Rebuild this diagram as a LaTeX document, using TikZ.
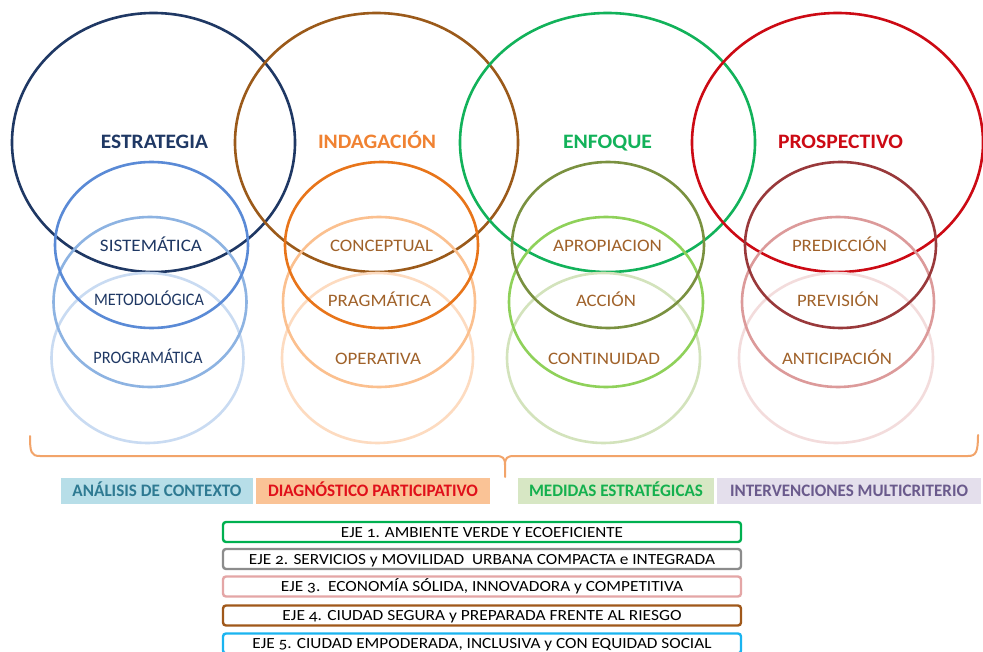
\documentclass[tikz,border=0pt]{standalone}
\usepackage{fontspec}
\usepackage{graphicx}
\setmainfont{Carlito}
\newfontfamily\ejefont[Numbers=OldStyle]{Carlito}
% squeeze or stretch a label horizontally to a given width
\newcommand{\fitto}[2]{\resizebox{#1}{\height}{#2}}

\definecolor{navy}{HTML}{1F3864}
\definecolor{blueA}{HTML}{5A8AD6}
\definecolor{blueB}{HTML}{8DB3E2}
\definecolor{blueC}{HTML}{C9DBF2}
\definecolor{brownbig}{HTML}{9B5A1A}
\definecolor{orangetxt}{HTML}{F08232}
\definecolor{orangeA}{HTML}{E8751A}
\definecolor{orangeB}{HTML}{FBC08F}
\definecolor{orangeC}{HTML}{FDDBC0}
\definecolor{greenbig}{HTML}{12B25A}
\definecolor{oliveA}{HTML}{7A9140}
\definecolor{greenB}{HTML}{8FD15A}
\definecolor{greenC}{HTML}{D3E3BC}
\definecolor{redbig}{HTML}{CC0A14}
\definecolor{redA}{HTML}{99393B}
\definecolor{pinkB}{HTML}{DC9A9A}
\definecolor{pinkC}{HTML}{F3DCDC}
\definecolor{itemtxt}{HTML}{A0622A}
\definecolor{bracecol}{HTML}{F2A46A}
\definecolor{tealfill}{HTML}{B7DEE8}
\definecolor{tealtxt}{HTML}{2E7A92}
\definecolor{peachfill}{HTML}{FAC396}
\definecolor{diagtxt}{HTML}{E0101A}
\definecolor{mintfill}{HTML}{D7E7C4}
\definecolor{mintxt}{HTML}{14B04E}
\definecolor{lilacfill}{HTML}{E4DFEC}
\definecolor{lilactxt}{HTML}{6A5A8C}
\definecolor{ejegreen}{HTML}{00B050}
\definecolor{ejegrey}{HTML}{8C8C8C}
\definecolor{ejepink}{HTML}{E4A6A6}
\definecolor{ejebrown}{HTML}{A0581A}
\definecolor{ejecyan}{HTML}{1AB4F0}

\begin{document}
\begin{tikzpicture}[x=1pt,y=-1pt,
  ring/.style={line width=2.6pt},
  title/.style={font=\fontsize{20.5}{24}\selectfont\bfseries, anchor=base, inner sep=0},
  item/.style={font=\fontsize{17.5}{20}\selectfont, anchor=base, inner sep=0},
  tagbox/.style={rectangle, inner sep=0, minimum height=26pt, text height=11.5pt, text depth=0pt,
    font=\fontsize{17.5}{20}\selectfont\bfseries},
  ejebox/.style={rectangle, rounded corners=3pt, line width=2.4pt, minimum width=518pt,
    minimum height=20pt, inner sep=0, text height=10pt, text depth=0pt,
    font=\fontsize{15.5}{18}\selectfont\ejefont, text=black},
  brace/.style={draw=bracecol, line width=2pt, line cap=round, line join=round}]

\useasboundingbox (0,0) rectangle (983,652);
\fill[white] (0,0) rectangle (983,652);

% the four large rings
\draw[ring, navy]     (153.5,142.5) ellipse [x radius=141.5, y radius=129.5];
\draw[ring, brownbig] (376.5,142.5) ellipse [x radius=141.5, y radius=129.5];
\draw[ring, greenbig] (607.5,142.5) ellipse [x radius=147.5, y radius=129.5];
\draw[ring, redbig]   (837.5,142.5) ellipse [x radius=145.5, y radius=129.5];

% stacked smaller rings, palest at the back
\draw[ring, blueC]   (147.5,358) ellipse [x radius=96, y radius=85];
\draw[ring, blueB]   (150,302)   ellipse [x radius=96.5, y radius=85];
\draw[ring, blueA]   (151.5,245) ellipse [x radius=96.5, y radius=83];

\draw[ring, orangeC] (377.5,358) ellipse [x radius=95.5, y radius=85];
\draw[ring, orangeB] (379,302)   ellipse [x radius=96, y radius=85];
\draw[ring, orangeA] (381.5,245) ellipse [x radius=96.5, y radius=83];

\draw[ring, greenC]  (603.5,358) ellipse [x radius=96.5, y radius=85];
\draw[ring, greenB]  (606,302)   ellipse [x radius=97, y radius=85];
\draw[ring, oliveA]  (608,245)   ellipse [x radius=96, y radius=83];

\draw[ring, pinkC]   (836,358)   ellipse [x radius=97, y radius=85];
\draw[ring, pinkB]   (838,302)   ellipse [x radius=96, y radius=85];
\draw[ring, redA]    (840.5,245) ellipse [x radius=95.5, y radius=83];

% titles
\node[title, text=navy]      (estrategia)  at (154.5,149) {\fitto{107pt}{ESTRATEGIA}};
\node[title, text=orangetxt] (indagacion)  at (377,149)   {\fitto{118pt}{INDAGACIÓN}};
\node[title, text=greenbig]  (enfoque)     at (607.5,149) {\fitto{89pt}{ENFOQUE}};
\node[title, text=redbig]    (prospectivo) at (840.5,149) {\fitto{125pt}{PROSPECTIVO}};

% items inside the small rings
\node[item, text=navy] (sistematica)   at (151,252) {\fitto{102pt}{SISTEMÁTICA}};
\node[item, text=navy] (metodologica)  at (149,306) {\fitto{110pt}{METODOLÓGICA}};
\node[item, text=navy] (programatica)  at (148,363) {\fitto{109pt}{PROGRAMÁTICA}};

\node[item, text=itemtxt] (conceptual)  at (381.5,252) {\fitto{103pt}{CONCEPTUAL}};
\node[item, text=itemtxt] (pragmatica)  at (379.5,307) {\fitto{103pt}{PRAGMÁTICA}};
\node[item, text=itemtxt] (operativa)   at (378,365)   {\fitto{86pt}{OPERATIVA}};

\node[item, text=itemtxt] (apropiacion) at (607.5,252) {\fitto{109pt}{APROPIACION}};
\node[item, text=itemtxt] (accion)      at (606,307)   {\fitto{60pt}{ACCIÓN}};
\node[item, text=itemtxt] (continuidad) at (604,365)   {\fitto{112pt}{CONTINUIDAD}};

\node[item, text=itemtxt] (prediccion)   at (839.5,252) {\fitto{95pt}{PREDICCIÓN}};
\node[item, text=itemtxt] (prevision)    at (838,307)   {\fitto{82pt}{PREVISIÓN}};
\node[item, text=itemtxt] (anticipacion) at (837,365)   {\fitto{110pt}{ANTICIPACIÓN}};

% curly brace gathering the four columns
\coordinate (braceL) at (30,436);
\coordinate (braceR) at (978,435);
\coordinate (braceTip) at (505,477);
\draw[brace] (braceL) .. controls (30,452) and (31,456) .. (40,456) -- (496,456)
  .. controls (503,456) and (505,458) .. (505,465) -- (braceTip);
\draw[brace] (505,465) .. controls (505,458) and (507,456) .. (514,456) -- (968,456)
  .. controls (976,456) and (978,452) .. (braceR);

% stage labels
\node[tagbox, fill=tealfill,  text=tealtxt,  minimum width=192pt] (analisis)  at (157,491)   {\fitto{169pt}{ANÁLISIS DE CONTEXTO}};
\node[tagbox, fill=peachfill, text=diagtxt,  minimum width=234pt] (diagnostico) at (373,491) {\fitto{210pt}{DIAGNÓSTICO PARTICIPATIVO}};
\node[tagbox, fill=mintfill,  text=mintxt,   minimum width=196pt] (medidas)   at (616,491)   {\fitto{174pt}{MEDIDAS ESTRATÉGICAS}};
\node[tagbox, fill=lilacfill, text=lilactxt, minimum width=264pt] (intervenciones) at (849,491) {\fitto{238pt}{INTERVENCIONES MULTICRITERIO}};

% strategic axes
\node[ejebox, draw=ejegreen] (eje1) at (482,532) {\fitto{282pt}{EJE 1. AMBIENTE VERDE Y ECOEFICIENTE}};
\node[ejebox, draw=ejegrey]  (eje2) at (482,559) {\fitto{466pt}{EJE 2. SERVICIOS y MOVILIDAD\ \ URBANA COMPACTA e INTEGRADA}};
\node[ejebox, draw=ejepink]  (eje3) at (482,586.5) {\fitto{402pt}{EJE 3.\ \ ECONOMÍA SÓLIDA, INNOVADORA y COMPETITIVA}};
\node[ejebox, draw=ejebrown] (eje4) at (482,615.5) {\fitto{399pt}{EJE 4. CIUDAD SEGURA y PREPARADA FRENTE AL RIESGO}};
\node[ejebox, draw=ejecyan]  (eje5) at (482,643.5) {\fitto{459pt}{EJE 5. CIUDAD EMPODERADA, INCLUSIVA y CON EQUIDAD SOCIAL}};

\end{tikzpicture}
\end{document}
